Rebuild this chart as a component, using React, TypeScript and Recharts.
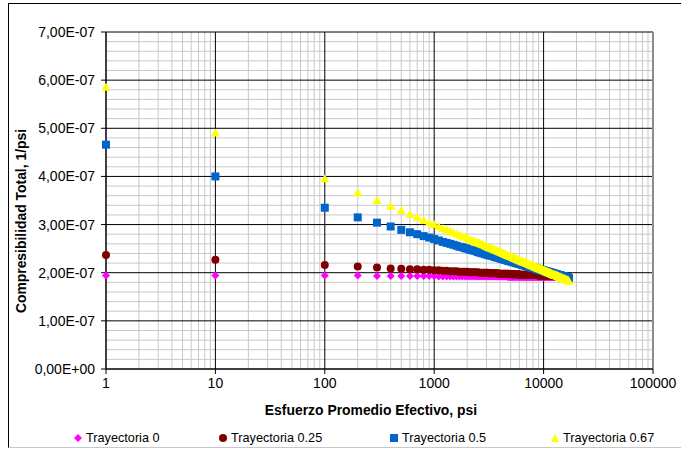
import React from 'react';
import {
  ScatterChart,
  Scatter,
  XAxis,
  YAxis,
  CartesianGrid,
  ReferenceLine,
  Legend,
} from 'recharts';

// Esfuerzo promedio efectivo (psi)
const esfuerzo = [
  1, 10,
  100, 200, 300, 400, 500, 600, 700, 800, 900, 1000,
  1100, 1200, 1300, 1400, 1500, 1600, 1700, 1800, 1900, 2000,
  2100, 2200, 2300, 2400, 2500, 2600, 2700, 2800, 2900, 3000,
  3100, 3200, 3300, 3400, 3500, 3600, 3700, 3800, 3900, 4000,
  4100, 4200, 4300, 4400, 4500, 4600, 4700, 4800, 4900, 5000,
  5100, 5200, 5300, 5400, 5500, 5600, 5700, 5800, 5900, 6000,
  6100, 6200, 6300, 6400, 6500, 6600, 6700, 6800, 6900, 7000,
  7100, 7200, 7300, 7400, 7500, 7600, 7700, 7800, 7900, 8000,
  8100, 8200, 8300, 8400, 8500, 8600, 8700, 8800, 8900, 9000,
  9100, 9200, 9300, 9400, 9500, 9600, 9700, 9800, 9900, 10000,
  10100, 10200, 10300, 10400, 10500, 10600, 10700, 10800, 10900, 11000,
  11100, 11200, 11300, 11400, 11500, 11600, 11700, 11800, 11900, 12000,
  12100, 12200, 12300, 12400, 12500, 12600, 12700, 12800, 12900, 13000,
  13100, 13200, 13300, 13400, 13500, 13600, 13700, 13800, 13900, 14000,
  14100, 14200, 14300, 14400, 14500, 14600, 14700, 14800, 14900, 15000,
  15100, 15200, 15300, 15400, 15500, 15600, 15700, 15800, 15900, 16000,
  16100, 16200, 16300, 16400, 16500, 16600, 16700, 16800, 16900, 17000,
];

// Compresibilidad total (1/psi) por trayectoria
const trayectoria0 = [
  1.94e-7, 1.94e-7,
  1.94e-7, 1.94e-7, 1.93e-7, 1.93e-7, 1.93e-7, 1.93e-7, 1.93e-7, 1.93e-7, 1.93e-7, 1.93e-7,
  1.92e-7, 1.92e-7, 1.92e-7, 1.92e-7, 1.92e-7, 1.92e-7, 1.92e-7, 1.92e-7, 1.92e-7, 1.92e-7,
  1.92e-7, 1.92e-7, 1.92e-7, 1.92e-7, 1.92e-7, 1.92e-7, 1.92e-7, 1.92e-7, 1.92e-7, 1.92e-7,
  1.92e-7, 1.92e-7, 1.92e-7, 1.92e-7, 1.92e-7, 1.92e-7, 1.92e-7, 1.92e-7, 1.92e-7, 1.92e-7,
  1.92e-7, 1.92e-7, 1.92e-7, 1.92e-7, 1.92e-7, 1.92e-7, 1.91e-7, 1.91e-7, 1.91e-7, 1.91e-7,
  1.91e-7, 1.91e-7, 1.91e-7, 1.91e-7, 1.91e-7, 1.91e-7, 1.91e-7, 1.91e-7, 1.91e-7, 1.91e-7,
  1.91e-7, 1.91e-7, 1.91e-7, 1.91e-7, 1.91e-7, 1.91e-7, 1.91e-7, 1.91e-7, 1.91e-7, 1.91e-7,
  1.91e-7, 1.91e-7, 1.91e-7, 1.91e-7, 1.91e-7, 1.91e-7, 1.91e-7, 1.91e-7, 1.91e-7, 1.91e-7,
  1.91e-7, 1.91e-7, 1.91e-7, 1.91e-7, 1.91e-7, 1.91e-7, 1.91e-7, 1.91e-7, 1.91e-7, 1.91e-7,
  1.91e-7, 1.91e-7, 1.91e-7, 1.91e-7, 1.91e-7, 1.91e-7, 1.91e-7, 1.91e-7, 1.91e-7, 1.91e-7,
  1.91e-7, 1.91e-7, 1.91e-7, 1.91e-7, 1.91e-7, 1.91e-7, 1.91e-7, 1.91e-7, 1.91e-7, 1.91e-7,
  1.91e-7, 1.91e-7, 1.91e-7, 1.91e-7, 1.91e-7, 1.91e-7, 1.91e-7, 1.91e-7, 1.91e-7, 1.91e-7,
  1.91e-7, 1.91e-7, 1.91e-7, 1.91e-7, 1.91e-7, 1.91e-7, 1.91e-7, 1.91e-7, 1.91e-7, 1.91e-7,
  1.91e-7, 1.91e-7, 1.91e-7, 1.91e-7, 1.91e-7, 1.91e-7, 1.91e-7, 1.91e-7, 1.91e-7, 1.91e-7,
  1.91e-7, 1.91e-7, 1.91e-7, 1.91e-7, 1.91e-7, 1.91e-7, 1.91e-7, 1.91e-7, 1.91e-7, 1.91e-7,
  1.91e-7, 1.91e-7, 1.91e-7, 1.91e-7, 1.91e-7, 1.91e-7, 1.91e-7, 1.91e-7, 1.91e-7, 1.91e-7,
  1.91e-7, 1.91e-7, 1.91e-7, 1.91e-7, 1.91e-7, 1.91e-7, 1.91e-7, 1.91e-7, 1.91e-7, 1.91e-7,
];

const trayectoria025 = [
  2.37e-7, 2.27e-7,
  2.16e-7, 2.13e-7, 2.11e-7, 2.09e-7, 2.08e-7, 2.07e-7, 2.07e-7, 2.06e-7, 2.06e-7, 2.05e-7,
  2.05e-7, 2.04e-7, 2.04e-7, 2.03e-7, 2.03e-7, 2.03e-7, 2.02e-7, 2.02e-7, 2.02e-7, 2.02e-7,
  2.01e-7, 2.01e-7, 2.01e-7, 2.01e-7, 2.01e-7, 2.00e-7, 2.00e-7, 2.00e-7, 2.00e-7, 2.00e-7,
  2.00e-7, 1.99e-7, 1.99e-7, 1.99e-7, 1.99e-7, 1.99e-7, 1.99e-7, 1.99e-7, 1.98e-7, 1.98e-7,
  1.98e-7, 1.98e-7, 1.98e-7, 1.98e-7, 1.98e-7, 1.98e-7, 1.98e-7, 1.98e-7, 1.97e-7, 1.97e-7,
  1.97e-7, 1.97e-7, 1.97e-7, 1.97e-7, 1.97e-7, 1.97e-7, 1.97e-7, 1.97e-7, 1.97e-7, 1.96e-7,
  1.96e-7, 1.96e-7, 1.96e-7, 1.96e-7, 1.96e-7, 1.96e-7, 1.96e-7, 1.96e-7, 1.96e-7, 1.96e-7,
  1.96e-7, 1.96e-7, 1.95e-7, 1.95e-7, 1.95e-7, 1.95e-7, 1.95e-7, 1.95e-7, 1.95e-7, 1.95e-7,
  1.95e-7, 1.95e-7, 1.95e-7, 1.95e-7, 1.95e-7, 1.95e-7, 1.95e-7, 1.95e-7, 1.95e-7, 1.94e-7,
  1.94e-7, 1.94e-7, 1.94e-7, 1.94e-7, 1.94e-7, 1.94e-7, 1.94e-7, 1.94e-7, 1.94e-7, 1.94e-7,
  1.94e-7, 1.94e-7, 1.94e-7, 1.94e-7, 1.94e-7, 1.94e-7, 1.94e-7, 1.94e-7, 1.94e-7, 1.94e-7,
  1.93e-7, 1.93e-7, 1.93e-7, 1.93e-7, 1.93e-7, 1.93e-7, 1.93e-7, 1.93e-7, 1.93e-7, 1.93e-7,
  1.93e-7, 1.93e-7, 1.93e-7, 1.93e-7, 1.93e-7, 1.93e-7, 1.93e-7, 1.93e-7, 1.93e-7, 1.93e-7,
  1.93e-7, 1.93e-7, 1.93e-7, 1.93e-7, 1.93e-7, 1.93e-7, 1.92e-7, 1.92e-7, 1.92e-7, 1.92e-7,
  1.92e-7, 1.92e-7, 1.92e-7, 1.92e-7, 1.92e-7, 1.92e-7, 1.92e-7, 1.92e-7, 1.92e-7, 1.92e-7,
  1.92e-7, 1.92e-7, 1.92e-7, 1.92e-7, 1.92e-7, 1.92e-7, 1.92e-7, 1.92e-7, 1.92e-7, 1.92e-7,
  1.92e-7, 1.92e-7, 1.92e-7, 1.92e-7, 1.92e-7, 1.92e-7, 1.92e-7, 1.92e-7, 1.91e-7, 1.91e-7,
];

const trayectoria05 = [
  4.66e-7, 4.00e-7,
  3.35e-7, 3.15e-7, 3.04e-7, 2.96e-7, 2.89e-7, 2.84e-7, 2.80e-7, 2.76e-7, 2.73e-7, 2.70e-7,
  2.67e-7, 2.64e-7, 2.62e-7, 2.60e-7, 2.58e-7, 2.56e-7, 2.54e-7, 2.53e-7, 2.51e-7, 2.50e-7,
  2.48e-7, 2.47e-7, 2.46e-7, 2.45e-7, 2.43e-7, 2.42e-7, 2.41e-7, 2.40e-7, 2.39e-7, 2.38e-7,
  2.37e-7, 2.36e-7, 2.36e-7, 2.35e-7, 2.34e-7, 2.33e-7, 2.32e-7, 2.32e-7, 2.31e-7, 2.30e-7,
  2.29e-7, 2.29e-7, 2.28e-7, 2.27e-7, 2.27e-7, 2.26e-7, 2.25e-7, 2.25e-7, 2.24e-7, 2.24e-7,
  2.23e-7, 2.23e-7, 2.22e-7, 2.22e-7, 2.21e-7, 2.20e-7, 2.20e-7, 2.20e-7, 2.19e-7, 2.19e-7,
  2.18e-7, 2.18e-7, 2.17e-7, 2.17e-7, 2.16e-7, 2.16e-7, 2.15e-7, 2.15e-7, 2.15e-7, 2.14e-7,
  2.14e-7, 2.13e-7, 2.13e-7, 2.13e-7, 2.12e-7, 2.12e-7, 2.11e-7, 2.11e-7, 2.11e-7, 2.10e-7,
  2.10e-7, 2.10e-7, 2.09e-7, 2.09e-7, 2.09e-7, 2.08e-7, 2.08e-7, 2.08e-7, 2.07e-7, 2.07e-7,
  2.07e-7, 2.06e-7, 2.06e-7, 2.06e-7, 2.05e-7, 2.05e-7, 2.05e-7, 2.05e-7, 2.04e-7, 2.04e-7,
  2.04e-7, 2.03e-7, 2.03e-7, 2.03e-7, 2.03e-7, 2.02e-7, 2.02e-7, 2.02e-7, 2.02e-7, 2.01e-7,
  2.01e-7, 2.01e-7, 2.01e-7, 2.00e-7, 2.00e-7, 2.00e-7, 2.00e-7, 1.99e-7, 1.99e-7, 1.99e-7,
  1.99e-7, 1.98e-7, 1.98e-7, 1.98e-7, 1.98e-7, 1.97e-7, 1.97e-7, 1.97e-7, 1.97e-7, 1.97e-7,
  1.96e-7, 1.96e-7, 1.96e-7, 1.96e-7, 1.95e-7, 1.95e-7, 1.95e-7, 1.95e-7, 1.95e-7, 1.94e-7,
  1.94e-7, 1.94e-7, 1.94e-7, 1.94e-7, 1.93e-7, 1.93e-7, 1.93e-7, 1.93e-7, 1.93e-7, 1.92e-7,
  1.92e-7, 1.92e-7, 1.92e-7, 1.92e-7, 1.92e-7, 1.91e-7, 1.91e-7, 1.91e-7, 1.91e-7, 1.91e-7,
  1.90e-7, 1.90e-7, 1.90e-7, 1.90e-7, 1.90e-7, 1.90e-7, 1.89e-7, 1.89e-7, 1.89e-7, 1.89e-7,
];

const trayectoria067 = [
  5.85e-7, 4.90e-7,
  3.95e-7, 3.66e-7, 3.50e-7, 3.38e-7, 3.29e-7, 3.21e-7, 3.15e-7, 3.09e-7, 3.04e-7, 3.00e-7,
  2.96e-7, 2.92e-7, 2.89e-7, 2.86e-7, 2.83e-7, 2.81e-7, 2.78e-7, 2.76e-7, 2.74e-7, 2.71e-7,
  2.69e-7, 2.67e-7, 2.66e-7, 2.64e-7, 2.62e-7, 2.61e-7, 2.59e-7, 2.58e-7, 2.56e-7, 2.55e-7,
  2.53e-7, 2.52e-7, 2.51e-7, 2.50e-7, 2.48e-7, 2.47e-7, 2.46e-7, 2.45e-7, 2.44e-7, 2.43e-7,
  2.42e-7, 2.41e-7, 2.40e-7, 2.39e-7, 2.38e-7, 2.37e-7, 2.36e-7, 2.35e-7, 2.34e-7, 2.34e-7,
  2.33e-7, 2.32e-7, 2.31e-7, 2.30e-7, 2.30e-7, 2.29e-7, 2.28e-7, 2.27e-7, 2.27e-7, 2.26e-7,
  2.25e-7, 2.25e-7, 2.24e-7, 2.23e-7, 2.23e-7, 2.22e-7, 2.22e-7, 2.21e-7, 2.20e-7, 2.20e-7,
  2.19e-7, 2.19e-7, 2.18e-7, 2.17e-7, 2.17e-7, 2.16e-7, 2.16e-7, 2.15e-7, 2.15e-7, 2.14e-7,
  2.14e-7, 2.13e-7, 2.13e-7, 2.12e-7, 2.12e-7, 2.11e-7, 2.11e-7, 2.10e-7, 2.10e-7, 2.09e-7,
  2.09e-7, 2.08e-7, 2.08e-7, 2.08e-7, 2.07e-7, 2.07e-7, 2.06e-7, 2.06e-7, 2.05e-7, 2.05e-7,
  2.05e-7, 2.04e-7, 2.04e-7, 2.03e-7, 2.03e-7, 2.03e-7, 2.02e-7, 2.02e-7, 2.01e-7, 2.01e-7,
  2.01e-7, 2.00e-7, 2.00e-7, 2.00e-7, 1.99e-7, 1.99e-7, 1.99e-7, 1.98e-7, 1.98e-7, 1.97e-7,
  1.97e-7, 1.97e-7, 1.96e-7, 1.96e-7, 1.96e-7, 1.95e-7, 1.95e-7, 1.95e-7, 1.94e-7, 1.94e-7,
  1.94e-7, 1.94e-7, 1.93e-7, 1.93e-7, 1.93e-7, 1.92e-7, 1.92e-7, 1.92e-7, 1.91e-7, 1.91e-7,
  1.91e-7, 1.91e-7, 1.90e-7, 1.90e-7, 1.90e-7, 1.89e-7, 1.89e-7, 1.89e-7, 1.89e-7, 1.88e-7,
  1.88e-7, 1.88e-7, 1.87e-7, 1.87e-7, 1.87e-7, 1.87e-7, 1.86e-7, 1.86e-7, 1.86e-7, 1.86e-7,
  1.85e-7, 1.85e-7, 1.85e-7, 1.85e-7, 1.84e-7, 1.84e-7, 1.84e-7, 1.84e-7, 1.83e-7, 1.83e-7,
];

const seriesNames = ['Trayectoria 0', 'Trayectoria 0.25', 'Trayectoria 0.5', 'Trayectoria 0.67'];

// Axis ticks and gridline positions
const xTicks = [1, 10, 100, 1000, 10000, 100000];
const xMinor = [
  2, 3, 4, 5, 6, 7, 8, 9,
  20, 30, 40, 50, 60, 70, 80, 90,
  200, 300, 400, 500, 600, 700, 800, 900,
  2000, 3000, 4000, 5000, 6000, 7000, 8000, 9000,
  20000, 30000, 40000, 50000, 60000, 70000, 80000, 90000,
];
const yTicks = [0, 1e-7, 2e-7, 3e-7, 4e-7, 5e-7, 6e-7, 7e-7];
const yMinor = [
  0.2e-7, 0.4e-7, 0.6e-7, 0.8e-7,
  1.2e-7, 1.4e-7, 1.6e-7, 1.8e-7,
  2.2e-7, 2.4e-7, 2.6e-7, 2.8e-7,
  3.2e-7, 3.4e-7, 3.6e-7, 3.8e-7,
  4.2e-7, 4.4e-7, 4.6e-7, 4.8e-7,
  5.2e-7, 5.4e-7, 5.6e-7, 5.8e-7,
  6.2e-7, 6.4e-7, 6.6e-7, 6.8e-7,
];

const toPoints = (ys: number[]) => esfuerzo.map((x, i) => ({ x, y: ys[i] }));
const data0 = toPoints(trayectoria0);
const data025 = toPoints(trayectoria025);
const data05 = toPoints(trayectoria05);
const data067 = toPoints(trayectoria067);

const COLORS = ['#FF00FF', '#800000', '#0066CC', '#FFFF00'];
const FONT = '"Liberation Sans", Arial, sans-serif';

const formatY = (v: number) => {
  if (v === 0) return '0,00E+00';
  return `${(v / 1e-7).toFixed(2).replace('.', ',')}E-07`;
};

const Diamond = (p: any) => (
  <polygon
    points={`${p.cx},${p.cy - 4} ${p.cx + 4},${p.cy} ${p.cx},${p.cy + 4} ${p.cx - 4},${p.cy}`}
    fill={COLORS[0]}
  />
);
const Dot = (p: any) => <circle cx={p.cx} cy={p.cy} r={4} fill={COLORS[1]} />;
const Square = (p: any) => <rect x={p.cx - 4} y={p.cy - 4} width={8} height={8} fill={COLORS[2]} />;
const Triangle = (p: any) => (
  <polygon
    points={`${p.cx},${p.cy - 4.5} ${p.cx + 4.5},${p.cy + 3.5} ${p.cx - 4.5},${p.cy + 3.5}`}
    fill={COLORS[3]}
  />
);

const legendIcon = (i: number) => {
  const c = COLORS[i];
  if (i === 0) return <polygon points="4,0 8,4 4,8 0,4" fill={c} />;
  if (i === 1) return <circle cx={4} cy={4} r={4} fill={c} />;
  if (i === 2) return <rect x={0} y={0} width={8} height={8} fill={c} />;
  return <polygon points="4,0 8,8 0,8" fill={c} />;
};

const legendLeft = [74, 219, 390, 551];

const LegendContent = () => (
  <div style={{ position: 'relative', width: 681, height: 18, fontFamily: FONT, fontSize: 12.7, color: '#000' }}>
    {seriesNames.map((name, i) => (
      <div
        key={name}
        style={{ position: 'absolute', left: legendLeft[i], top: 0, display: 'flex', alignItems: 'center', height: 18, whiteSpace: 'nowrap' }}
      >
        <svg width={8} height={8} style={{ marginRight: 4 }}>
          {legendIcon(i)}
        </svg>
        <span>{name}</span>
      </div>
    ))}
  </div>
);

const YTitle = () => (
  <text
    x={21}
    y={221}
    transform="rotate(-90, 21, 221)"
    textAnchor="middle"
    dominantBaseline="central"
    fontFamily={FONT}
    fontSize={13.9}
    fontWeight="bold"
    fill="#000"
  >
    Compresibilidad Total, 1/psi
  </text>
);

const XTitle = () => (
  <text
    x={371}
    y={410}
    textAnchor="middle"
    dominantBaseline="central"
    fontFamily={FONT}
    fontSize={13.9}
    fontWeight="bold"
    fill="#000"
  >
    Esfuerzo Promedio Efectivo, psi
  </text>
);

export default function App() {
  return (
    <div style={{ position: 'absolute', left: 0, top: 0, width: 681, height: 449, background: '#fff', overflow: 'hidden' }}>
      <div
        style={{
          position: 'absolute',
          left: 8,
          top: 3,
          width: 700,
          height: 443,
          borderTop: '1px solid #000',
          borderLeft: '1px solid #000',
          borderBottom: '1px solid #c8c8c8',
        }}
      />
      <ScatterChart
        width={681}
        height={449}
        margin={{ top: 32, right: 28, bottom: 50, left: 0 }}
        style={{ position: 'absolute', left: 0, top: 0 }}
      >
        <CartesianGrid
          stroke="#c8c8c8"
          horizontalValues={yMinor}
          verticalValues={xMinor}
        />
        <CartesianGrid
          stroke="#000"
          horizontalValues={yTicks}
          verticalValues={xTicks}
        />
        <XAxis
          type="number"
          dataKey="x"
          scale="log"
          domain={[1, 100000]}
          ticks={xTicks}
          height={30}
          tickSize={5}
          tickMargin={4}
          stroke="#000"
          tick={{ fill: '#000', fontSize: 14, fontFamily: FONT }}
          tickFormatter={(v: number) => String(v)}
          interval={0}
          label={<XTitle />}
        />
        <YAxis
          type="number"
          dataKey="y"
          domain={[0, 7e-7]}
          ticks={yTicks}
          width={106}
          tickSize={5}
          tickMargin={6}
          stroke="#000"
          tick={{ fill: '#000', fontSize: 14, fontFamily: FONT }}
          tickFormatter={formatY}
          interval={0}
          label={<YTitle />}
        />
        <ReferenceLine x={100000} stroke="#8c8c8c" strokeWidth={2} />
        <Legend
          layout="horizontal"
          verticalAlign="middle"
          wrapperStyle={{ top: 429, left: 0, width: 681 }}
          content={<LegendContent />}
        />
        <Scatter name={seriesNames[0]} data={data0} fill={COLORS[0]} shape={Diamond} isAnimationActive={false} />
        <Scatter name={seriesNames[1]} data={data025} fill={COLORS[1]} shape={Dot} isAnimationActive={false} />
        <Scatter name={seriesNames[2]} data={data05} fill={COLORS[2]} shape={Square} isAnimationActive={false} />
        <Scatter name={seriesNames[3]} data={data067} fill={COLORS[3]} shape={Triangle} isAnimationActive={false} />
      </ScatterChart>
    </div>
  );
}
